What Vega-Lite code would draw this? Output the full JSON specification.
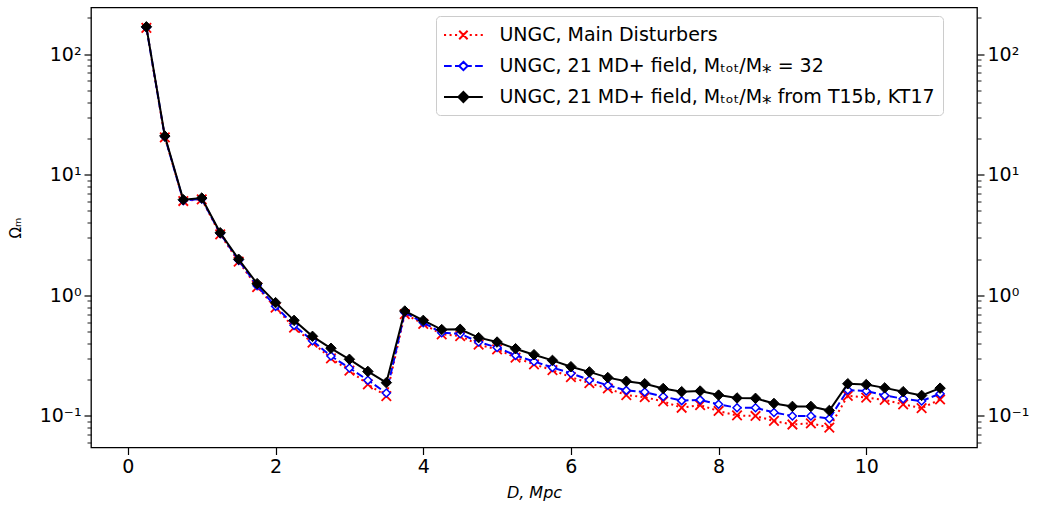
{
  "$schema": "https://vega.github.io/schema/vega-lite/v6.json",
  "width": 886,
  "height": 440,
  "autosize": {"type": "none"},
  "padding": {"left": 91, "top": 7.5, "right": 63, "bottom": 59.5},
  "background": "white",
  "config": {
    "font": "DejaVu Sans",
    "view": {"stroke": "black", "strokeWidth": 1.3},
    "axis": {"domain": false, "grid": false, "tickColor": "black", "labelColor": "black", "labelFont": "DejaVu Sans", "labelFontSize": 19, "titleFont": "DejaVu Sans", "titleColor": "black", "titleFontWeight": "normal", "labelPadding": 3}
  },
  "data": {"values": [
    {"D": 0.25, "series": "UNGC, Main Disturbers", "omega": 165},
    {"D": 0.5, "series": "UNGC, Main Disturbers", "omega": 20.4},
    {"D": 0.75, "series": "UNGC, Main Disturbers", "omega": 6.05},
    {"D": 1.0, "series": "UNGC, Main Disturbers", "omega": 6.25},
    {"D": 1.25, "series": "UNGC, Main Disturbers", "omega": 3.2},
    {"D": 1.5, "series": "UNGC, Main Disturbers", "omega": 1.9},
    {"D": 1.75, "series": "UNGC, Main Disturbers", "omega": 1.17},
    {"D": 2.0, "series": "UNGC, Main Disturbers", "omega": 0.79},
    {"D": 2.25, "series": "UNGC, Main Disturbers", "omega": 0.54},
    {"D": 2.5, "series": "UNGC, Main Disturbers", "omega": 0.405},
    {"D": 2.75, "series": "UNGC, Main Disturbers", "omega": 0.3},
    {"D": 3.0, "series": "UNGC, Main Disturbers", "omega": 0.238},
    {"D": 3.25, "series": "UNGC, Main Disturbers", "omega": 0.183},
    {"D": 3.5, "series": "UNGC, Main Disturbers", "omega": 0.146},
    {"D": 3.75, "series": "UNGC, Main Disturbers", "omega": 0.7},
    {"D": 4.0, "series": "UNGC, Main Disturbers", "omega": 0.58},
    {"D": 4.25, "series": "UNGC, Main Disturbers", "omega": 0.475},
    {"D": 4.5, "series": "UNGC, Main Disturbers", "omega": 0.46},
    {"D": 4.75, "series": "UNGC, Main Disturbers", "omega": 0.39},
    {"D": 5.0, "series": "UNGC, Main Disturbers", "omega": 0.357},
    {"D": 5.25, "series": "UNGC, Main Disturbers", "omega": 0.305},
    {"D": 5.5, "series": "UNGC, Main Disturbers", "omega": 0.268},
    {"D": 5.75, "series": "UNGC, Main Disturbers", "omega": 0.24},
    {"D": 6.0, "series": "UNGC, Main Disturbers", "omega": 0.21},
    {"D": 6.25, "series": "UNGC, Main Disturbers", "omega": 0.187},
    {"D": 6.5, "series": "UNGC, Main Disturbers", "omega": 0.169},
    {"D": 6.75, "series": "UNGC, Main Disturbers", "omega": 0.149},
    {"D": 7.0, "series": "UNGC, Main Disturbers", "omega": 0.143},
    {"D": 7.25, "series": "UNGC, Main Disturbers", "omega": 0.132},
    {"D": 7.5, "series": "UNGC, Main Disturbers", "omega": 0.117},
    {"D": 7.75, "series": "UNGC, Main Disturbers", "omega": 0.123},
    {"D": 8.0, "series": "UNGC, Main Disturbers", "omega": 0.11},
    {"D": 8.25, "series": "UNGC, Main Disturbers", "omega": 0.101},
    {"D": 8.5, "series": "UNGC, Main Disturbers", "omega": 0.1},
    {"D": 8.75, "series": "UNGC, Main Disturbers", "omega": 0.091},
    {"D": 9.0, "series": "UNGC, Main Disturbers", "omega": 0.085},
    {"D": 9.25, "series": "UNGC, Main Disturbers", "omega": 0.087},
    {"D": 9.5, "series": "UNGC, Main Disturbers", "omega": 0.08},
    {"D": 9.75, "series": "UNGC, Main Disturbers", "omega": 0.147},
    {"D": 10.0, "series": "UNGC, Main Disturbers", "omega": 0.142},
    {"D": 10.25, "series": "UNGC, Main Disturbers", "omega": 0.136},
    {"D": 10.5, "series": "UNGC, Main Disturbers", "omega": 0.125},
    {"D": 10.75, "series": "UNGC, Main Disturbers", "omega": 0.116},
    {"D": 11.0, "series": "UNGC, Main Disturbers", "omega": 0.137},

    {"D": 0.25, "series": "UNGC, 21 MD+ field, Mₜₒₜ/M⁎ = 32", "omega": 166},
    {"D": 0.5, "series": "UNGC, 21 MD+ field, Mₜₒₜ/M⁎ = 32", "omega": 20.6},
    {"D": 0.75, "series": "UNGC, 21 MD+ field, Mₜₒₜ/M⁎ = 32", "omega": 6.1},
    {"D": 1.0, "series": "UNGC, 21 MD+ field, Mₜₒₜ/M⁎ = 32", "omega": 6.3},
    {"D": 1.25, "series": "UNGC, 21 MD+ field, Mₜₒₜ/M⁎ = 32", "omega": 3.25},
    {"D": 1.5, "series": "UNGC, 21 MD+ field, Mₜₒₜ/M⁎ = 32", "omega": 1.95},
    {"D": 1.75, "series": "UNGC, 21 MD+ field, Mₜₒₜ/M⁎ = 32", "omega": 1.2},
    {"D": 2.0, "series": "UNGC, 21 MD+ field, Mₜₒₜ/M⁎ = 32", "omega": 0.81},
    {"D": 2.25, "series": "UNGC, 21 MD+ field, Mₜₒₜ/M⁎ = 32", "omega": 0.564},
    {"D": 2.5, "series": "UNGC, 21 MD+ field, Mₜₒₜ/M⁎ = 32", "omega": 0.42},
    {"D": 2.75, "series": "UNGC, 21 MD+ field, Mₜₒₜ/M⁎ = 32", "omega": 0.314},
    {"D": 3.0, "series": "UNGC, 21 MD+ field, Mₜₒₜ/M⁎ = 32", "omega": 0.25},
    {"D": 3.25, "series": "UNGC, 21 MD+ field, Mₜₒₜ/M⁎ = 32", "omega": 0.198},
    {"D": 3.5, "series": "UNGC, 21 MD+ field, Mₜₒₜ/M⁎ = 32", "omega": 0.155},
    {"D": 3.75, "series": "UNGC, 21 MD+ field, Mₜₒₜ/M⁎ = 32", "omega": 0.72},
    {"D": 4.0, "series": "UNGC, 21 MD+ field, Mₜₒₜ/M⁎ = 32", "omega": 0.594},
    {"D": 4.25, "series": "UNGC, 21 MD+ field, Mₜₒₜ/M⁎ = 32", "omega": 0.49},
    {"D": 4.5, "series": "UNGC, 21 MD+ field, Mₜₒₜ/M⁎ = 32", "omega": 0.48},
    {"D": 4.75, "series": "UNGC, 21 MD+ field, Mₜₒₜ/M⁎ = 32", "omega": 0.41},
    {"D": 5.0, "series": "UNGC, 21 MD+ field, Mₜₒₜ/M⁎ = 32", "omega": 0.37},
    {"D": 5.25, "series": "UNGC, 21 MD+ field, Mₜₒₜ/M⁎ = 32", "omega": 0.318},
    {"D": 5.5, "series": "UNGC, 21 MD+ field, Mₜₒₜ/M⁎ = 32", "omega": 0.283},
    {"D": 5.75, "series": "UNGC, 21 MD+ field, Mₜₒₜ/M⁎ = 32", "omega": 0.252},
    {"D": 6.0, "series": "UNGC, 21 MD+ field, Mₜₒₜ/M⁎ = 32", "omega": 0.226},
    {"D": 6.25, "series": "UNGC, 21 MD+ field, Mₜₒₜ/M⁎ = 32", "omega": 0.199},
    {"D": 6.5, "series": "UNGC, 21 MD+ field, Mₜₒₜ/M⁎ = 32", "omega": 0.18},
    {"D": 6.75, "series": "UNGC, 21 MD+ field, Mₜₒₜ/M⁎ = 32", "omega": 0.163},
    {"D": 7.0, "series": "UNGC, 21 MD+ field, Mₜₒₜ/M⁎ = 32", "omega": 0.158},
    {"D": 7.25, "series": "UNGC, 21 MD+ field, Mₜₒₜ/M⁎ = 32", "omega": 0.145},
    {"D": 7.5, "series": "UNGC, 21 MD+ field, Mₜₒₜ/M⁎ = 32", "omega": 0.134},
    {"D": 7.75, "series": "UNGC, 21 MD+ field, Mₜₒₜ/M⁎ = 32", "omega": 0.136},
    {"D": 8.0, "series": "UNGC, 21 MD+ field, Mₜₒₜ/M⁎ = 32", "omega": 0.125},
    {"D": 8.25, "series": "UNGC, 21 MD+ field, Mₜₒₜ/M⁎ = 32", "omega": 0.117},
    {"D": 8.5, "series": "UNGC, 21 MD+ field, Mₜₒₜ/M⁎ = 32", "omega": 0.117},
    {"D": 8.75, "series": "UNGC, 21 MD+ field, Mₜₒₜ/M⁎ = 32", "omega": 0.107},
    {"D": 9.0, "series": "UNGC, 21 MD+ field, Mₜₒₜ/M⁎ = 32", "omega": 0.1},
    {"D": 9.25, "series": "UNGC, 21 MD+ field, Mₜₒₜ/M⁎ = 32", "omega": 0.1},
    {"D": 9.5, "series": "UNGC, 21 MD+ field, Mₜₒₜ/M⁎ = 32", "omega": 0.095},
    {"D": 9.75, "series": "UNGC, 21 MD+ field, Mₜₒₜ/M⁎ = 32", "omega": 0.164},
    {"D": 10.0, "series": "UNGC, 21 MD+ field, Mₜₒₜ/M⁎ = 32", "omega": 0.161},
    {"D": 10.25, "series": "UNGC, 21 MD+ field, Mₜₒₜ/M⁎ = 32", "omega": 0.148},
    {"D": 10.5, "series": "UNGC, 21 MD+ field, Mₜₒₜ/M⁎ = 32", "omega": 0.139},
    {"D": 10.75, "series": "UNGC, 21 MD+ field, Mₜₒₜ/M⁎ = 32", "omega": 0.133},
    {"D": 11.0, "series": "UNGC, 21 MD+ field, Mₜₒₜ/M⁎ = 32", "omega": 0.153},

    {"D": 0.25, "series": "UNGC, 21 MD+ field, Mₜₒₜ/M⁎ from T15b, KT17", "omega": 168},
    {"D": 0.5, "series": "UNGC, 21 MD+ field, Mₜₒₜ/M⁎ from T15b, KT17", "omega": 20.9},
    {"D": 0.75, "series": "UNGC, 21 MD+ field, Mₜₒₜ/M⁎ from T15b, KT17", "omega": 6.2},
    {"D": 1.0, "series": "UNGC, 21 MD+ field, Mₜₒₜ/M⁎ from T15b, KT17", "omega": 6.4},
    {"D": 1.25, "series": "UNGC, 21 MD+ field, Mₜₒₜ/M⁎ from T15b, KT17", "omega": 3.3},
    {"D": 1.5, "series": "UNGC, 21 MD+ field, Mₜₒₜ/M⁎ from T15b, KT17", "omega": 1.99},
    {"D": 1.75, "series": "UNGC, 21 MD+ field, Mₜₒₜ/M⁎ from T15b, KT17", "omega": 1.25},
    {"D": 2.0, "series": "UNGC, 21 MD+ field, Mₜₒₜ/M⁎ from T15b, KT17", "omega": 0.87},
    {"D": 2.25, "series": "UNGC, 21 MD+ field, Mₜₒₜ/M⁎ from T15b, KT17", "omega": 0.62},
    {"D": 2.5, "series": "UNGC, 21 MD+ field, Mₜₒₜ/M⁎ from T15b, KT17", "omega": 0.457},
    {"D": 2.75, "series": "UNGC, 21 MD+ field, Mₜₒₜ/M⁎ from T15b, KT17", "omega": 0.364},
    {"D": 3.0, "series": "UNGC, 21 MD+ field, Mₜₒₜ/M⁎ from T15b, KT17", "omega": 0.295},
    {"D": 3.25, "series": "UNGC, 21 MD+ field, Mₜₒₜ/M⁎ from T15b, KT17", "omega": 0.234},
    {"D": 3.5, "series": "UNGC, 21 MD+ field, Mₜₒₜ/M⁎ from T15b, KT17", "omega": 0.189},
    {"D": 3.75, "series": "UNGC, 21 MD+ field, Mₜₒₜ/M⁎ from T15b, KT17", "omega": 0.741},
    {"D": 4.0, "series": "UNGC, 21 MD+ field, Mₜₒₜ/M⁎ from T15b, KT17", "omega": 0.62},
    {"D": 4.25, "series": "UNGC, 21 MD+ field, Mₜₒₜ/M⁎ from T15b, KT17", "omega": 0.52},
    {"D": 4.5, "series": "UNGC, 21 MD+ field, Mₜₒₜ/M⁎ from T15b, KT17", "omega": 0.523},
    {"D": 4.75, "series": "UNGC, 21 MD+ field, Mₜₒₜ/M⁎ from T15b, KT17", "omega": 0.446},
    {"D": 5.0, "series": "UNGC, 21 MD+ field, Mₜₒₜ/M⁎ from T15b, KT17", "omega": 0.41},
    {"D": 5.25, "series": "UNGC, 21 MD+ field, Mₜₒₜ/M⁎ from T15b, KT17", "omega": 0.361},
    {"D": 5.5, "series": "UNGC, 21 MD+ field, Mₜₒₜ/M⁎ from T15b, KT17", "omega": 0.322},
    {"D": 5.75, "series": "UNGC, 21 MD+ field, Mₜₒₜ/M⁎ from T15b, KT17", "omega": 0.289},
    {"D": 6.0, "series": "UNGC, 21 MD+ field, Mₜₒₜ/M⁎ from T15b, KT17", "omega": 0.256},
    {"D": 6.25, "series": "UNGC, 21 MD+ field, Mₜₒₜ/M⁎ from T15b, KT17", "omega": 0.232},
    {"D": 6.5, "series": "UNGC, 21 MD+ field, Mₜₒₜ/M⁎ from T15b, KT17", "omega": 0.208},
    {"D": 6.75, "series": "UNGC, 21 MD+ field, Mₜₒₜ/M⁎ from T15b, KT17", "omega": 0.194},
    {"D": 7.0, "series": "UNGC, 21 MD+ field, Mₜₒₜ/M⁎ from T15b, KT17", "omega": 0.185},
    {"D": 7.25, "series": "UNGC, 21 MD+ field, Mₜₒₜ/M⁎ from T15b, KT17", "omega": 0.169},
    {"D": 7.5, "series": "UNGC, 21 MD+ field, Mₜₒₜ/M⁎ from T15b, KT17", "omega": 0.159},
    {"D": 7.75, "series": "UNGC, 21 MD+ field, Mₜₒₜ/M⁎ from T15b, KT17", "omega": 0.161},
    {"D": 8.0, "series": "UNGC, 21 MD+ field, Mₜₒₜ/M⁎ from T15b, KT17", "omega": 0.149},
    {"D": 8.25, "series": "UNGC, 21 MD+ field, Mₜₒₜ/M⁎ from T15b, KT17", "omega": 0.141},
    {"D": 8.5, "series": "UNGC, 21 MD+ field, Mₜₒₜ/M⁎ from T15b, KT17", "omega": 0.14},
    {"D": 8.75, "series": "UNGC, 21 MD+ field, Mₜₒₜ/M⁎ from T15b, KT17", "omega": 0.127},
    {"D": 9.0, "series": "UNGC, 21 MD+ field, Mₜₒₜ/M⁎ from T15b, KT17", "omega": 0.12},
    {"D": 9.25, "series": "UNGC, 21 MD+ field, Mₜₒₜ/M⁎ from T15b, KT17", "omega": 0.12},
    {"D": 9.5, "series": "UNGC, 21 MD+ field, Mₜₒₜ/M⁎ from T15b, KT17", "omega": 0.111},
    {"D": 9.75, "series": "UNGC, 21 MD+ field, Mₜₒₜ/M⁎ from T15b, KT17", "omega": 0.185},
    {"D": 10.0, "series": "UNGC, 21 MD+ field, Mₜₒₜ/M⁎ from T15b, KT17", "omega": 0.182},
    {"D": 10.25, "series": "UNGC, 21 MD+ field, Mₜₒₜ/M⁎ from T15b, KT17", "omega": 0.171},
    {"D": 10.5, "series": "UNGC, 21 MD+ field, Mₜₒₜ/M⁎ from T15b, KT17", "omega": 0.159},
    {"D": 10.75, "series": "UNGC, 21 MD+ field, Mₜₒₜ/M⁎ from T15b, KT17", "omega": 0.148},
    {"D": 11.0, "series": "UNGC, 21 MD+ field, Mₜₒₜ/M⁎ from T15b, KT17", "omega": 0.17}
  ]},
  "encoding": {
    "x": {"field": "D", "type": "quantitative", "scale": {"domain": [-0.5, 11.5], "nice": false, "zero": false},
      "axis": {"values": [0, 2, 4, 6, 8, 10], "tickSize": 7, "tickWidth": 1.2, "title": "D, Mpc", "titleFontStyle": "italic", "titleFontSize": 16, "titlePadding": 8, "labelFlush": false}}
  },
  "layer": [
    {
      "encoding": {
        "y": {"field": "omega", "type": "quantitative", "scale": {"type": "log", "domain": [0.0548, 243], "nice": false},
          "axis": {"orient": "left", "values": [0.06, 0.07, 0.08, 0.09, 0.1, 0.2, 0.3, 0.4, 0.5, 0.6, 0.7, 0.8, 0.9, 1, 2, 3, 4, 5, 6, 7, 8, 9, 10, 20, 30, 40, 50, 60, 70, 80, 90, 100, 200],
            "labelExpr": "datum.value == 100 ? '10²' : datum.value == 10 ? '10¹' : datum.value == 1 ? '10⁰' : datum.value == 0.1 ? '10⁻¹' : ''",
            "labelOverlap": false,
            "tickSize": {"condition": {"test": "datum.value == 100 || datum.value == 10 || datum.value == 1 || datum.value == 0.1", "value": 7}, "value": 4},
            "tickWidth": {"condition": {"test": "datum.value == 100 || datum.value == 10 || datum.value == 1 || datum.value == 0.1", "value": 1.2}, "value": 0.9},
            "title": "Ωₘ", "titleFontSize": 15, "titlePadding": 16}}
      },
      "layer": [
        {"transform": [{"filter": {"field": "series", "equal": "UNGC, Main Disturbers"}}],
         "mark": {"type": "line", "stroke": "#ff0000", "strokeWidth": 2, "strokeDash": [2, 3.3], "strokeCap": "butt"},
         "encoding": {}},
        {"transform": [{"filter": {"field": "series", "equal": "UNGC, Main Disturbers"}}],
         "mark": {"type": "point", "shape": "M-1,-1L1,1M-1,1L1,-1", "size": 90, "filled": false, "stroke": "#ff0000", "strokeWidth": 1.8, "opacity": 1},
         "encoding": {}},
        {"transform": [{"filter": {"field": "series", "equal": "UNGC, 21 MD+ field, Mₜₒₜ/M⁎ = 32"}}],
         "mark": {"type": "line", "stroke": "#0000ff", "strokeWidth": 2, "strokeDash": [7.5, 3.3], "strokeCap": "butt"},
         "encoding": {}},
        {"transform": [{"filter": {"field": "series", "equal": "UNGC, 21 MD+ field, Mₜₒₜ/M⁎ = 32"}}],
         "mark": {"type": "point", "shape": "diamond", "size": 64, "filled": true, "fill": "white", "stroke": "#0000ff", "strokeWidth": 1.5, "opacity": 1},
         "encoding": {}},
        {"transform": [{"filter": {"field": "series", "equal": "UNGC, 21 MD+ field, Mₜₒₜ/M⁎ from T15b, KT17"}}],
         "mark": {"type": "line", "stroke": "#000000", "strokeWidth": 2},
         "encoding": {}},
        {"transform": [{"filter": "datum.D > 100"}],
         "mark": {"type": "point", "filled": false, "opacity": 1, "strokeWidth": 2},
         "encoding": {
           "color": {"field": "series", "type": "nominal",
             "scale": {"domain": ["UNGC, Main Disturbers", "UNGC, 21 MD+ field, Mₜₒₜ/M⁎ = 32", "UNGC, 21 MD+ field, Mₜₒₜ/M⁎ from T15b, KT17"], "range": ["#ff0000", "#0000ff", "#000000"]},
             "legend": {"title": null, "orient": "none", "legendX": 345, "legendY": 8.5, "fillColor": "rgba(255,255,255,0.8)", "strokeColor": "#cccccc", "cornerRadius": 4, "padding": 8, "labelFontSize": 19, "labelFont": "DejaVu Sans", "labelColor": "black", "labelLimit": 0, "symbolSize": 400, "symbolStrokeWidth": 2, "symbolOffset": 8.4, "labelOffset": 25, "rowPadding": 10}},
           "shape": {"field": "series", "type": "nominal",
             "scale": {"domain": ["UNGC, Main Disturbers", "UNGC, 21 MD+ field, Mₜₒₜ/M⁎ = 32", "UNGC, 21 MD+ field, Mₜₒₜ/M⁎ from T15b, KT17"],
               "range": ["M-1.94,0H-1.73M-1.39,0H-1.18M-0.84,0H-0.63M0.63,0H0.84M1.18,0H1.39M1.73,0H1.94M-0.42,-0.42L0.42,0.42M-0.42,0.42L0.42,-0.42", "M-1.94,0H-1.17M-0.84,0H-0.45M0.45,0H0.84M1.17,0H1.94M0,-0.42L0.42,0L0,0.42L-0.42,0Z", "M-1.94,0H1.94M0,-0.5L0.5,0L0,0.5L-0.5,0Z"]},
             "legend": {"title": null, "orient": "none", "legendX": 345, "legendY": 8.5, "fillColor": "rgba(255,255,255,0.8)", "strokeColor": "#cccccc", "cornerRadius": 4, "padding": 8, "labelFontSize": 19, "labelFont": "DejaVu Sans", "labelColor": "black", "labelLimit": 0, "symbolSize": 400, "symbolStrokeWidth": 2, "symbolOffset": 8.4, "labelOffset": 25, "rowPadding": 10}},
           "fill": {"field": "series", "type": "nominal",
             "scale": {"domain": ["UNGC, Main Disturbers", "UNGC, 21 MD+ field, Mₜₒₜ/M⁎ = 32", "UNGC, 21 MD+ field, Mₜₒₜ/M⁎ from T15b, KT17"], "range": ["transparent", "#ffffff", "#000000"]},
             "legend": {"title": null, "orient": "none", "legendX": 345, "legendY": 8.5, "fillColor": "rgba(255,255,255,0.8)", "strokeColor": "#cccccc", "cornerRadius": 4, "padding": 8, "labelFontSize": 19, "labelFont": "DejaVu Sans", "labelColor": "black", "labelLimit": 0, "symbolSize": 400, "symbolStrokeWidth": 2, "symbolOffset": 8.4, "labelOffset": 25, "rowPadding": 10}}
         }}
      ]
    },
    {
      "transform": [{"filter": {"field": "series", "equal": "UNGC, 21 MD+ field, Mₜₒₜ/M⁎ from T15b, KT17"}}],
      "mark": {"type": "point", "shape": "diamond", "size": 110, "filled": true, "fill": "black", "stroke": "black", "strokeWidth": 1, "opacity": 1},
      "encoding": {
        "y": {"field": "omega", "type": "quantitative", "scale": {"type": "log", "domain": [0.0548, 243], "nice": false},
          "axis": {"orient": "right", "values": [0.06, 0.07, 0.08, 0.09, 0.1, 0.2, 0.3, 0.4, 0.5, 0.6, 0.7, 0.8, 0.9, 1, 2, 3, 4, 5, 6, 7, 8, 9, 10, 20, 30, 40, 50, 60, 70, 80, 90, 100, 200],
            "labelExpr": "datum.value == 100 ? '10²' : datum.value == 10 ? '10¹' : datum.value == 1 ? '10⁰' : datum.value == 0.1 ? '10⁻¹' : ''",
            "labelOverlap": false,
            "tickSize": {"condition": {"test": "datum.value == 100 || datum.value == 10 || datum.value == 1 || datum.value == 0.1", "value": 7}, "value": 4},
            "tickWidth": {"condition": {"test": "datum.value == 100 || datum.value == 10 || datum.value == 1 || datum.value == 0.1", "value": 1.2}, "value": 0.9},
            "title": null}}
      }
    }
  ],
  "resolve": {"axis": {"y": "independent"}}
}
